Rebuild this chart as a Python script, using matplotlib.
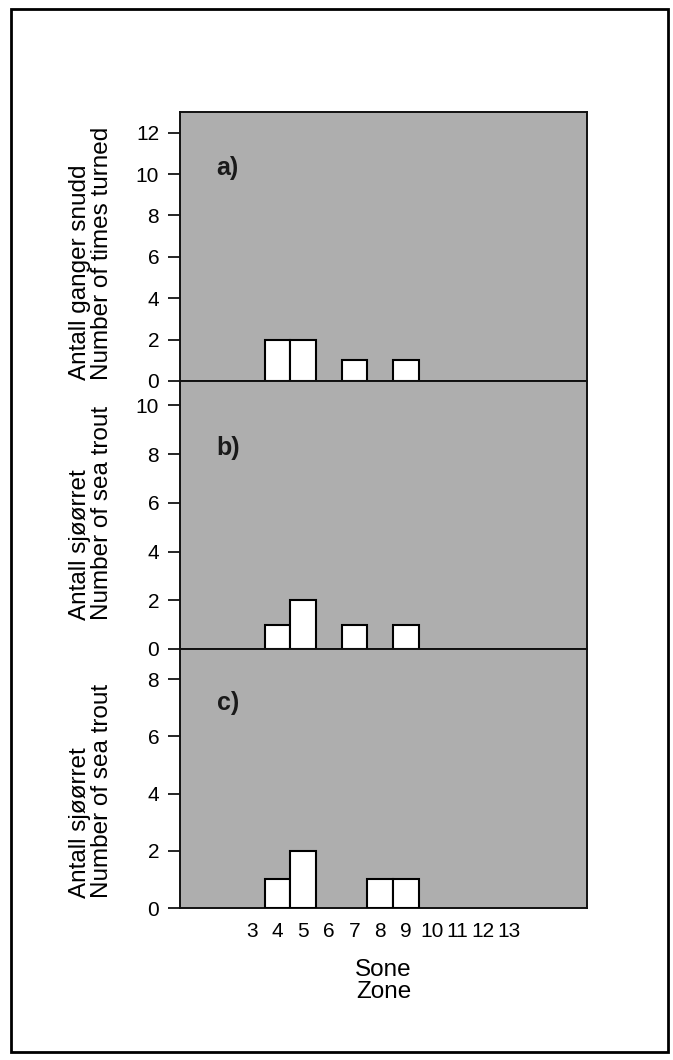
import matplotlib
matplotlib.use("Agg")
import matplotlib.pyplot as plt
from matplotlib.patches import Rectangle

plt.rcParams.update({
    "font.family": "Liberation Sans",
    "font.size": 15,
    "axes.linewidth": 1.4,
    "axes.edgecolor": "#111111",
})

BG_GREY = "#aeaeae"

# zones shown on the x axis
zone_ticks = [3, 4, 5, 6, 7, 8, 9, 10, 11, 12, 13]

# bar data per panel (zone -> count)
zones_a = [4, 5, 7, 9]
counts_a = [2, 2, 1, 1]
zones_b = [4, 5, 7, 9]
counts_b = [1, 2, 1, 1]
zones_c = [4, 5, 8, 9]
counts_c = [1, 2, 1, 1]

panel_tags = ["a)", "b)", "c)"]
ylabels = [
    "Antall ganger snudd\nNumber of times turned",
    "Antall sjøørret\nNumber of sea trout",
    "Antall sjøørret\nNumber of sea trout",
]
yticks = [[0, 2, 4, 6, 8, 10, 12], [0, 2, 4, 6, 8, 10], [0, 2, 4, 6, 8]]
ytops = [13.0, 11.0, 9.05]

W, H = 673, 1060
fig = plt.figure(figsize=(W / 100, H / 100), dpi=100)
fig.patch.set_facecolor("white")

# outer frame round the whole figure
fig.patches.append(Rectangle((11 / W, 1 - 1052 / H), (668 - 11) / W, (1052 - 9) / H,
                             transform=fig.transFigure, fill=False,
                             edgecolor="black", linewidth=2))

# panel extents in pixels (top, bottom)
rows = [(112, 381), (381, 649), (649, 908)]
left, right = 180, 587
label_start = [380, 620, 898]   # where each rotated label begins (bottom end)
tag_y = [0.79, 0.75, 0.79]

data = [(zones_a, counts_a), (zones_b, counts_b), (zones_c, counts_c)]

for i, ((top, bot), (zs, cs)) in enumerate(zip(rows, data)):
    ax = fig.add_axes([left / W, 1 - bot / H, (right - left) / W, (bot - top) / H])
    ax.set_facecolor(BG_GREY)
    ax.bar(zs, cs, width=1.0, color="white", edgecolor="black", linewidth=1.5, zorder=3)
    ax.set_xlim(0.2, 16.05)
    ax.set_ylim(0, ytops[i])
    ax.set_yticks(yticks[i])
    ax.tick_params(axis="y", length=9, width=1.2, pad=6, labelsize=15)
    if i == 2:
        ax.set_xticks(zone_ticks)
        ax.set_xticklabels([str(z) for z in zone_ticks])
        ax.tick_params(axis="x", length=0, pad=10, labelsize=15)
    else:
        ax.set_xticks([])
    ax.text(0.09, tag_y[i], panel_tags[i], transform=ax.transAxes,
            fontsize=18, fontweight="bold", color="#1a1a1a", va="center", ha="left")

    # two-line y label, both lines starting at the same height
    fig.text(91 / W, 1 - label_start[i] / H, ylabels[i], rotation=90,
             ha="center", va="bottom", multialignment="left",
             fontsize=17.5, linespacing=1.05)

fig.text((left + right) / 2 / W, 1 - 981 / H, "Sone\nZone", ha="center", va="center",
         multialignment="center", fontsize=17.5, linespacing=1.05)

fig.savefig("out.png", dpi=100, facecolor="white")
